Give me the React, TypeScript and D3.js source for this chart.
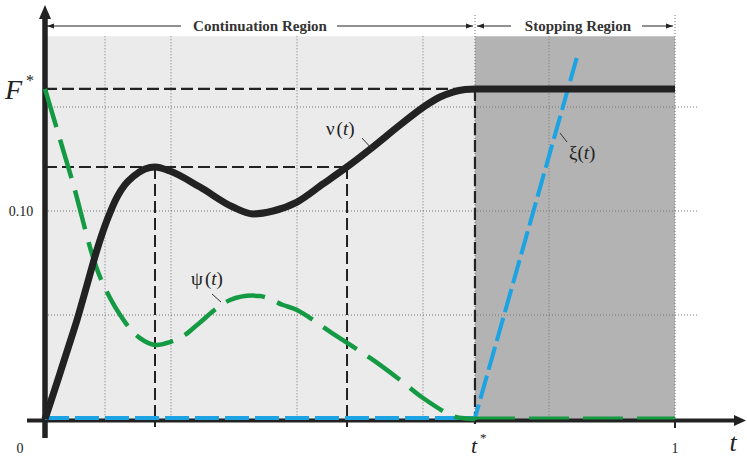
import React from "react";
import * as d3 from "d3";

const W = 747;
const H = 459;

// t-values and function values
const tStar = 0.6825;
const fStar = 0.1587;
const vPeakT = 0.1746;
const vPeak = 0.1212;
const vCrossT = 0.4794;

const vT = [0, 0.0127, 0.0254, 0.0381, 0.0508, 0.0667, 0.0825, 0.0984, 0.1143, 0.127, 0.1397, 0.1587, 0.1746, 0.1984, 0.246, 0.2984, 0.3302, 0.3619, 0.4, 0.4413, 0.4794, 0.5206, 0.5635, 0.6032, 0.627, 0.6476, 0.6667, 0.6825, 1];
const vV = [0, 0.0116, 0.0235, 0.0355, 0.0476, 0.0645, 0.0813, 0.0955, 0.1067, 0.1127, 0.1165, 0.1202, 0.1212, 0.1192, 0.1115, 0.1019, 0.0986, 0.1, 0.1043, 0.113, 0.1212, 0.1308, 0.1413, 0.1505, 0.1548, 0.1572, 0.1584, 0.1587, 0.1587];

const psiT = [0, 0.0429, 0.0873, 0.127, 0.1508, 0.1746, 0.1984, 0.2222, 0.2413, 0.2937, 0.3413, 0.3778, 0.4, 0.4556, 0.5206, 0.5635, 0.6, 0.6476, 0.6698, 0.6825];
const psiV = [0.1587, 0.1149, 0.0683, 0.0466, 0.0389, 0.0356, 0.037, 0.0404, 0.0452, 0.0572, 0.0591, 0.0548, 0.0524, 0.0413, 0.0284, 0.0188, 0.0101, 0.0014, 0.0002, 0];
const psiTailT = [0.6825, 1];
const psiTailV = [0.0005, 0.0005];

const xiT = [0, 0.6825, 0.8444];
const xiV = [0.0005, 0.0005, 0.174];

const gridY = [0.05, 0.1, 0.15];
const gridX = [0.0952, 0.2, 0.4, 0.6, 0.8];

export default function App() {
  const x = d3.scaleLinear().domain([0, 1]).range([45, 675]);
  const y = d3.scaleLinear().domain([0, 0.2]).range([419, 3]);

  const lineMono = d3
    .line<[number, number]>()
    .x((d) => x(d[0]))
    .y((d) => y(d[1]))
    .curve(d3.curveMonotoneX);
  const lineSmooth = d3
    .line<[number, number]>()
    .x((d) => x(d[0]))
    .y((d) => y(d[1]))
    .curve(d3.curveCatmullRom.alpha(0.5));
  const lineLin = d3
    .line<[number, number]>()
    .x((d) => x(d[0]))
    .y((d) => y(d[1]));

  const vPts = vT.map((t, i) => [t, vV[i]] as [number, number]);
  const psiPts = psiT.map((t, i) => [t, psiV[i]] as [number, number]);
  const psiTail = psiTailT.map((t, i) => [t, psiTailV[i]] as [number, number]);
  const xiPts = xiT.map((t, i) => [t, xiV[i]] as [number, number]);

  const font = "Liberation Serif, DejaVu Serif, serif";
  const x0 = x(0);
  const xs = x(tStar);
  const x1 = x(1);
  const top = y(0.184);
  const axisY = 420.5;

  return (
    <svg
      width={W}
      height={H}
      style={{ position: "absolute", left: 0, top: 0, background: "#fff", fontFamily: font }}
    >
      <defs>
        <marker id="arr" viewBox="0 0 10 10" refX="10" refY="5" markerWidth="7" markerHeight="7" orient="auto-start-reverse">
          <path d="M0,1.5 L10,5 L0,8.5 z" fill="#222" />
        </marker>
      </defs>
      {/* regions */}
      <rect x={x0} y={top} width={xs - x0} height={y(0) - top} fill="#ebebeb" />
      <rect x={xs} y={top} width={x1 - xs} height={y(0) - top} fill="#b3b3b3" />

      {/* dotted grid */}
      {gridY.map((g) => (
        <line key={"gy" + g} x1={x0} x2={699} y1={y(g)} y2={y(g)} stroke="#777" strokeWidth={1} strokeDasharray="1 2" />
      ))}
      {gridX.map((g) => (
        <line key={"gx" + g} x1={x(g)} x2={x(g)} y1={top} y2={y(0)} stroke="#777" strokeWidth={1} strokeDasharray="1 2" />
      ))}
      {[tStar, 1].map((g) => (
        <line key={"gb" + g} x1={x(g)} x2={x(g)} y1={15} y2={y(0)} stroke="#777" strokeWidth={1} strokeDasharray="1 2" />
      ))}

      {/* reference dashed lines */}
      <line x1={x0} x2={xs} y1={y(fStar)} y2={y(fStar)} stroke="#222" strokeWidth={2.2} strokeDasharray="12 5" />
      <line x1={x0} x2={x(vCrossT)} y1={y(vPeak)} y2={y(vPeak)} stroke="#222" strokeWidth={2} strokeDasharray="12 5" />
      <line x1={x(vPeakT)} x2={x(vPeakT)} y1={y(vPeak)} y2={427} stroke="#222" strokeWidth={2} strokeDasharray="12 5" />
      <line x1={x(vCrossT)} x2={x(vCrossT)} y1={y(vPeak)} y2={427} stroke="#222" strokeWidth={2} strokeDasharray="12 5" />
      <line x1={xs} x2={xs} y1={y(fStar)} y2={427} stroke="#222" strokeWidth={2.2} strokeDasharray="12 5" />
      <line x1={x1} x2={x1} y1={419} y2={428} stroke="#222" strokeWidth={2} />

      {/* axes */}
      <line x1={27} x2={738} y1={axisY} y2={axisY} stroke="#222" strokeWidth={4} />
      <path d={`M746,${axisY} L734,${axisY - 5.5} L734,${axisY + 5.5} z`} fill="#222" />
      <line x1={x0} x2={x0} y1={438} y2={16} stroke="#222" strokeWidth={5.5} />
      <path d={`M${x0},5 L${x0 - 6},19 L${x0 + 6},19 z`} fill="#222" />

      {/* curves */}
      <path d={lineLin(xiPts) || ""} fill="none" stroke="#1ba3e3" strokeWidth={4} strokeDasharray="24 6" />
      <path d={lineSmooth(psiPts) || ""} fill="none" stroke="#149a43" strokeWidth={4.5} strokeDasharray="40 13" />
      <path d={lineLin(psiTail) || ""} fill="none" stroke="#149a43" strokeWidth={3} strokeDasharray="40 14" />
      <path d={lineMono(vPts) || ""} fill="none" stroke="#222" strokeWidth={7} strokeLinejoin="round" />

      {/* region labels */}
      <line x1={x0 + 2} x2={181} y1={26} y2={26} stroke="#222" strokeWidth={1} markerStart="url(#arr)" />
      <text x={260} y={31} textAnchor="middle" fontSize={15} fontWeight="bold" fill="#333">Continuation Region</text>
      <line x1={337} x2={xs - 2} y1={26} y2={26} stroke="#222" strokeWidth={1} markerEnd="url(#arr)" />
      <line x1={xs + 2} x2={511} y1={26} y2={26} stroke="#222" strokeWidth={1} markerStart="url(#arr)" />
      <text x={578} y={31} textAnchor="middle" fontSize={15} fontWeight="bold" fill="#333">Stopping Region</text>
      <line x1={642} x2={x1 - 2} y1={26} y2={26} stroke="#222" strokeWidth={1} markerEnd="url(#arr)" />

      {/* curve labels */}
      <text x={326} y={135} fontSize={19} fill="#222">ν<tspan dx={2}>(</tspan><tspan fontStyle="italic">t</tspan>)</text>
      <line x1={362} x2={373} y1={138} y2={150} stroke="#333" strokeWidth={1} />
      <text x={191} y={285} fontSize={19} fill="#222">ψ<tspan dx={2}>(</tspan><tspan fontStyle="italic">t</tspan>)</text>
      <line x1={212} x2={221} y1={294} y2={302} stroke="#333" strokeWidth={1} />
      <text x={569} y={159} fontSize={19} fill="#222">ξ<tspan>(</tspan><tspan fontStyle="italic">t</tspan>)</text>
      <line x1={560} x2={567} y1={133} y2={142} stroke="#333" strokeWidth={1} />

      {/* axis labels */}
      <text x={5} y={99} fontSize={28} fontStyle="italic" fill="#222">F</text>
      <text x={26} y={86} fontSize={16} fill="#222">*</text>
      <text x={21} y={216} fontSize={14} textAnchor="middle" fill="#222">0.10</text>
      <text x={20} y={453} fontSize={14} textAnchor="middle" fill="#222">0</text>
      <text x={xs - 1} y={453} fontSize={22} fontStyle="italic" textAnchor="middle" fill="#222">t</text>
      <text x={xs + 5} y={442} fontSize={13} fill="#222">*</text>
      <text x={x1} y={453} fontSize={14} textAnchor="middle" fill="#222">1</text>
      <text x={733} y={451} fontSize={26} fontStyle="italic" textAnchor="middle" fill="#222">t</text>
    </svg>
  );
}
